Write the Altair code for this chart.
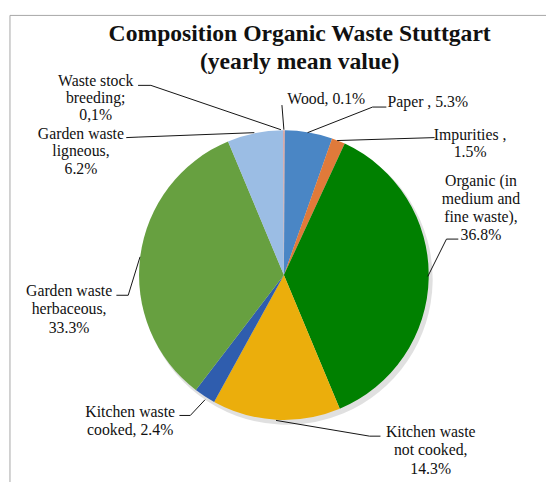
import altair as alt
import pandas as pd

# ---- data ----
categories = ["Wood", "Paper", "Impurities", "Organic (in medium and fine waste)",
              "Kitchen waste not cooked", "Kitchen waste cooked",
              "Garden waste herbaceous", "Garden waste ligneous", "Waste stock breeding"]
shares = [0.1, 5.3, 1.5, 36.8, 14.3, 2.4, 33.3, 6.2, 0.1]
colors = ["#E9A99A", "#4A86C5", "#E07A3A", "#008000", "#EBAE0C",
          "#2F5DAE", "#67A040", "#9BBDE4", "#D8A0A0"]

label_lines = [
    ["Wood, 0.1%"],
    ["Paper , 5.3%"],
    ["Impurities ,", "1.5%"],
    ["Organic (in", "medium and", "fine waste),", "36.8%"],
    ["Kitchen waste", "not cooked,", "14.3%"],
    ["Kitchen waste", "cooked, 2.4%"],
    ["Garden waste", "herbaceous,", "33.3%"],
    ["Garden waste", "ligneous,", "6.2%"],
    ["Waste stock", "breeding;", "0,1%"],
]

title_lines = ["Composition Organic Waste Stuttgart", "(yearly mean value)"]

# ---- layout (page pixel coordinates) ----
CX, CY, R = 288, 275.5, 147
label_pos = [(331, 97, 0), (434, 100, 0), (477, 133, 17.5), (488, 180, 18.3),
             (437, 435, 18.5), (132, 415, 18), (70, 292, 18.5), (82, 132, 18), (97, 78.5, 17.5)]
leaders = [
    [(286, 103), (288, 128)],
    [(392, 105), (378, 105), (312, 131)],
    [(441, 136), (342, 139)],
    [(465, 239), (453, 239), (434, 277)],
    [(386, 439), (375, 439), (280, 423)],
    [(182, 418), (193, 418), (208, 402)],
    [(118, 296), (130, 296), (142, 257)],
    [(128, 136), (140, 135.5), (258, 131)],
    [(140, 83), (153, 83), (285, 128)],
]

W, H = 546, 474
xs = alt.Scale(domain=[8, 8 + W], nice=False, zero=False)
ys = alt.Scale(domain=[8, 8 + H], nice=False, zero=False, reverse=True)
FONT = "Liberation Serif, Times New Roman, serif"

pie_df = pd.DataFrame({"category": categories, "share": shares,
                       "idx": list(range(len(categories)))})

shadow = alt.Chart(pie_df).mark_arc(radius=R + 1, color="#000000", opacity=0.12).encode(
    theta=alt.Theta("share:Q", stack=True),
    order=alt.Order("idx:Q"),
    x=alt.value(CX - 8 + 3), y=alt.value(CY - 8 + 4),
)

pie = alt.Chart(pie_df).mark_arc(radius=R).encode(
    theta=alt.Theta("share:Q", stack=True),
    order=alt.Order("idx:Q"),
    color=alt.Color("category:N", scale=alt.Scale(domain=categories, range=colors), legend=None),
    x=alt.value(CX - 8), y=alt.value(CY - 8),
)

rows = []
for cat, lines, (lx, ly, dy) in zip(categories, label_lines, label_pos):
    for i, t in enumerate(lines):
        rows.append({"cat": cat, "text": t, "x": lx, "y": ly + i * dy})
lab_df = pd.DataFrame(rows)

labels = alt.Chart(lab_df).mark_text(font=FONT, fontSize=16, color="#111111",
                                     align="center", baseline="middle").encode(
    x=alt.X("x:Q", scale=xs, axis=None),
    y=alt.Y("y:Q", scale=ys, axis=None),
    text="text:N",
)

lrows = []
for cat, pts in zip(categories, leaders):
    for j, (px, py) in enumerate(pts):
        lrows.append({"cat": cat, "step": j, "x": px, "y": py})
lead_df = pd.DataFrame(lrows)

lead = alt.Chart(lead_df).mark_line(color="#111111", strokeWidth=1).encode(
    x=alt.X("x:Q", scale=xs, axis=None),
    y=alt.Y("y:Q", scale=ys, axis=None),
    detail="cat:N",
    order="step:Q",
)

title_df = pd.DataFrame({"text": title_lines, "x": [304, 304], "y": [31, 59]})
title = alt.Chart(title_df).mark_text(font=FONT, fontSize=24, fontWeight="bold",
                                      color="#111111", align="center",
                                      baseline="middle").encode(
    x=alt.X("x:Q", scale=xs, axis=None),
    y=alt.Y("y:Q", scale=ys, axis=None),
    text="text:N",
)

frame_df = pd.DataFrame({"x": [10], "x2": [640], "y": [12], "y2": [640]})
frame = alt.Chart(frame_df).mark_rect(fillOpacity=0, stroke="#A6A6A6", strokeWidth=1).encode(
    x=alt.X("x:Q", scale=xs, axis=None), x2="x2:Q",
    y=alt.Y("y:Q", scale=ys, axis=None), y2="y2:Q",
)

chart = alt.layer(frame, shadow, pie, lead, labels, title).properties(
    width=W, height=H,
    autosize=alt.AutoSizeParams(type="none"),
    padding=0,
).configure_view(stroke=None).resolve_scale(theta="independent")

chart.save("out.html", embed_options={"renderer": "svg", "actions": False})
